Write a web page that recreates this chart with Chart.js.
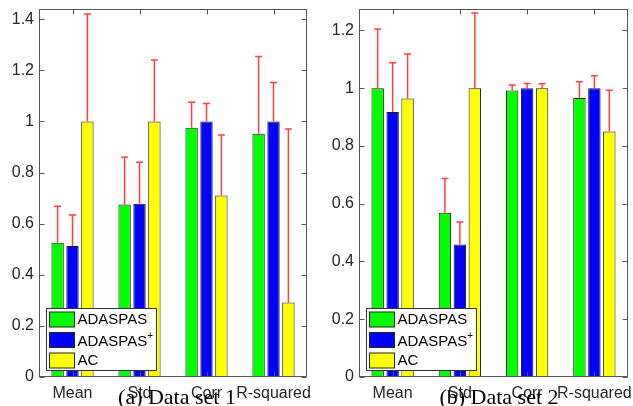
<!DOCTYPE html>
<html>
<head>
    <meta charset="UTF-8">
    <title>ADASPAS vs AC</title>
    <script src="https://cdn.jsdelivr.net/npm/chart.js"></script>
    <style>
        body {
            margin: 0;
            background: #fff;
        }
        #wrap {
            position: relative;
            width: 633px;
            height: 406px;
            overflow: hidden;
        }
        canvas {
            position: absolute;
            top: 0;
        }
        #chart1 { left: 0; }
        #chart2 { left: 316px; }
        .caption {
            position: absolute;
            top: 386px;
            font-family: 'Liberation Serif', 'Times New Roman', serif;
            font-size: 22px;
            line-height: 22px;
            color: #000;
            white-space: nowrap;
            transform: translateX(-50%);
        }
    </style>
</head>
<body>
<div id="wrap">
    <canvas id="chart1" width="316" height="406"></canvas>
    <canvas id="chart2" width="317" height="406"></canvas>
    <div class="caption" style="left:177px">(a) Data set 1</div>
    <div class="caption" style="left:499px">(b) Data set 2</div>
</div>
<script>
const categories = ['Mean', 'Std', 'Corr', 'R-squared'];
const seriesNames = ['ADASPAS', 'ADASPAS+', 'AC'];

// data set 1
const set1Adaspas = [0.525, 0.675, 0.975, 0.952];
const set1AdaspasPlus = [0.513, 0.678, 1.0, 1.0];
const set1Ac = [1.0, 1.0, 0.71, 0.292];
const set1AdaspasErr = [0.143, 0.185, 0.10, 0.302];
const set1AdaspasPlusErr = [0.121, 0.162, 0.07, 0.152];
const set1AcErr = [0.42, 0.24, 0.237, 0.678];
const yTicks1 = [0, 0.2, 0.4, 0.6, 0.8, 1, 1.2, 1.4];
const yMax1 = 1.44;

// data set 2
const set2Adaspas = [1.0, 0.569, 0.992, 0.966];
const set2AdaspasPlus = [0.917, 0.459, 1.0, 1.0];
const set2Ac = [0.964, 1.0, 1.0, 0.85];
const set2AdaspasErr = [0.205, 0.118, 0.019, 0.056];
const set2AdaspasPlusErr = [0.171, 0.078, 0.016, 0.043];
const set2AcErr = [0.154, 0.26, 0.015, 0.143];
const yTicks2 = [0, 0.2, 0.4, 0.6, 0.8, 1, 1.2];
const yMax2 = 1.274;

const barColors = ['#00ff00', '#0000ff', '#ffff00'];
const axisColor = '#555';
const textColor = '#262626';

// red error bars, upper half only
const errorBars = {
    id: 'errorBars',
    afterDatasetsDraw(chart) {
        const ctx = chart.ctx;
        const y = chart.scales.y;
        ctx.save();
        ctx.strokeStyle = 'rgba(255,0,0,0.75)';
        ctx.lineWidth = 1.5;
        chart.data.datasets.forEach((ds, i) => {
            chart.getDatasetMeta(i).data.forEach((bar, j) => {
                const top = y.getPixelForValue(ds.data[j] + ds.errors[j]);
                ctx.beginPath();
                ctx.moveTo(bar.x, bar.y);
                ctx.lineTo(bar.x, top);
                ctx.moveTo(bar.x - 3.5, top);
                ctx.lineTo(bar.x + 3.5, top);
                ctx.stroke();
            });
        });
        ctx.restore();
    }
};

// box round the axes with inward ticks, then the legend
const frameAndLegend = {
    id: 'frameAndLegend',
    afterDraw(chart) {
        const ctx = chart.ctx;
        const a = chart.chartArea;
        const l = Math.round(a.left) + 0.5, r = Math.round(a.right) - 0.5;
        const t = Math.round(a.top) + 0.5, b = Math.round(a.bottom) - 0.5;
        ctx.save();
        ctx.strokeStyle = axisColor;
        ctx.lineWidth = 1;
        ctx.strokeRect(l, t, r - l, b - t);
        ctx.beginPath();
        chart.scales.y.ticks.forEach(tk => {
            const py = Math.round(chart.scales.y.getPixelForValue(tk.value)) + 0.5;
            ctx.moveTo(l, py); ctx.lineTo(l + 5, py);
            ctx.moveTo(r, py); ctx.lineTo(r - 5, py);
        });
        categories.forEach((c, i) => {
            const px = Math.round(chart.scales.x.getPixelForValue(i)) + 0.5;
            ctx.moveTo(px, t); ctx.lineTo(px, t + 5);
            ctx.moveTo(px, b); ctx.lineTo(px, b - 5);
        });
        ctx.stroke();

        // legend
        const bx = Math.round(a.left) + 7.5;
        const bw = 110, bh = 62;
        const by = Math.round(a.bottom) - 7 - bh + 0.5;
        ctx.fillStyle = '#fff';
        ctx.fillRect(bx, by, bw, bh);
        ctx.strokeStyle = '#333';
        ctx.strokeRect(bx, by, bw, bh);
        const rows = [11, 31.5, 52];
        ctx.font = '15px "Liberation Sans", Arial, sans-serif';
        ctx.textBaseline = 'middle';
        chart.data.datasets.forEach((ds, i) => {
            const cy = by + rows[i];
            ctx.fillStyle = ds.backgroundColor;
            ctx.fillRect(bx + 3, cy - 7.5, 25, 15);
            ctx.strokeStyle = '#222';
            ctx.strokeRect(bx + 3, cy - 7.5, 25, 15);
            ctx.fillStyle = '#000';
            let name = ds.label;
            let sup = '';
            if (name.endsWith('+')) { sup = '+'; name = name.slice(0, -1); }
            const ty = sup ? cy + 2 : cy;
            ctx.fillText(name, bx + 31, ty);
            if (sup) {
                const w = ctx.measureText(name).width;
                ctx.font = '10px "Liberation Sans", Arial, sans-serif';
                ctx.fillText(sup, bx + 31 + w, ty - 6);
                ctx.font = '15px "Liberation Sans", Arial, sans-serif';
            }
        });
        ctx.restore();
    }
};

function makePanel(id, values, errors, yMax, yTicks, yWidth, padRight) {
    new Chart(document.getElementById(id), {
        type: 'bar',
        data: {
            labels: categories,
            datasets: seriesNames.map((name, i) => ({
                label: name,
                data: values[i],
                errors: errors[i],
                backgroundColor: barColors[i],
                borderColor: '#1a1a1a',
                borderWidth: 1,
                barPercentage: 0.83,
                categoryPercentage: 0.667
            }))
        },
        options: {
            responsive: false,
            animation: false,
            layout: { padding: { top: 9, right: padRight, left: 0, bottom: 0 } },
            plugins: {
                legend: { display: false },
                tooltip: { enabled: false }
            },
            scales: {
                x: {
                    grid: { display: false, drawTicks: false },
                    border: { display: false },
                    ticks: {
                        color: textColor,
                        padding: 7,
                        maxRotation: 0,
                        autoSkip: false,
                        font: { family: '"Liberation Sans", Arial, sans-serif', size: 16 }
                    },
                    afterFit: s => {
                        s.height = 29;
                        s.paddingLeft = 0;
                        s.paddingRight = 0;
                    }
                },
                y: {
                    min: 0,
                    max: yMax,
                    grid: { display: false, drawTicks: false },
                    border: { display: false },
                    afterBuildTicks: s => { s.ticks = yTicks.map(v => ({ value: v })); },
                    ticks: {
                        color: textColor,
                        padding: 5,
                        font: { family: '"Liberation Sans", Arial, sans-serif', size: 16 },
                        callback: v => String(+v.toFixed(1))
                    },
                    afterFit: s => {
                        s.width = yWidth;
                        s.paddingTop = 0;
                        s.paddingBottom = 0;
                    }
                }
            }
        },
        plugins: [errorBars, frameAndLegend]
    });
}

makePanel('chart1',
    [set1Adaspas, set1AdaspasPlus, set1Ac],
    [set1AdaspasErr, set1AdaspasPlusErr, set1AcErr],
    yMax1, yTicks1, 39, 9);
makePanel('chart2',
    [set2Adaspas, set2AdaspasPlus, set2Ac],
    [set2AdaspasErr, set2AdaspasPlusErr, set2AcErr],
    yMax2, yTicks2, 43, 5);
</script>
</body>
</html>
